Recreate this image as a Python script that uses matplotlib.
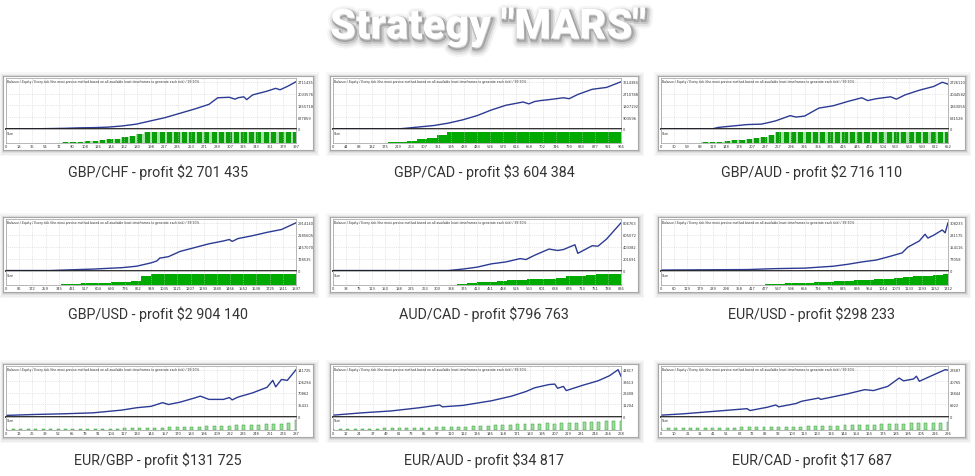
import numpy as np
import matplotlib
matplotlib.use('Agg')
import matplotlib.pyplot as plt
import matplotlib.patheffects as pe
from matplotlib.patches import Rectangle

W, H = 975, 477

pairs = ['GBP/CHF', 'GBP/CAD', 'GBP/AUD',
         'GBP/USD', 'AUD/CAD', 'EUR/USD',
         'EUR/GBP', 'EUR/AUD', 'EUR/CAD']
profits = [2701435, 3604384, 2716110, 2904140, 796763, 298233, 131725, 34817, 17687]
trades = [397, 965, 652, 1897, 826, 1312, 287, 268, 226]

# balance: (share of test, share of final balance)
gbpchf_bal = [(0, 0), (0.1, 0), (0.15, 0.005), (0.2, 0.01), (0.25, 0.02), (0.3, 0.025),
              (0.35, 0.035), (0.4, 0.06), (0.45, 0.1), (0.5, 0.17), (0.55, 0.24),
              (0.6, 0.33), (0.65, 0.42), (0.7, 0.52), (0.73, 0.66), (0.77, 0.67),
              (0.79, 0.63), (0.8, 0.66), (0.82, 0.68), (0.83, 0.62), (0.85, 0.72),
              (0.9, 0.8), (0.93, 0.86), (0.945, 0.83), (0.97, 0.9), (1.0, 1.0)]
gbpcad_bal = [(0, 0), (0.23, 0), (0.25, 0.01), (0.3, 0.04), (0.35, 0.07), (0.4, 0.12),
              (0.45, 0.19), (0.5, 0.28), (0.55, 0.4), (0.6, 0.5), (0.66, 0.57),
              (0.68, 0.53), (0.7, 0.58), (0.72, 0.6), (0.75, 0.62), (0.8, 0.66),
              (0.82, 0.64), (0.85, 0.73), (0.9, 0.84), (0.95, 0.88), (1.0, 1.0)]
gbpaud_bal = [(0, 0), (0.18, 0), (0.2, 0.03), (0.25, 0.06), (0.3, 0.09), (0.35, 0.1),
              (0.38, 0.14), (0.4, 0.17), (0.45, 0.28), (0.47, 0.25), (0.5, 0.27),
              (0.55, 0.44), (0.6, 0.49), (0.65, 0.58), (0.7, 0.66), (0.72, 0.6),
              (0.75, 0.64), (0.8, 0.68), (0.82, 0.63), (0.85, 0.72), (0.9, 0.82),
              (0.95, 0.9), (0.98, 0.99), (1.0, 0.95)]
gbpusd_bal = [(0, 0), (0.15, 0), (0.2, 0.01), (0.3, 0.03), (0.4, 0.06), (0.45, 0.09),
              (0.5, 0.16), (0.52, 0.2), (0.53, 0.26), (0.56, 0.29), (0.6, 0.4),
              (0.65, 0.48), (0.7, 0.56), (0.75, 0.62), (0.77, 0.65), (0.78, 0.61),
              (0.8, 0.67), (0.85, 0.73), (0.9, 0.8), (0.95, 0.86), (1.0, 1.0)]
audcad_bal = [(0, 0), (0.4, 0), (0.45, 0.03), (0.5, 0.07), (0.55, 0.14), (0.6, 0.18),
              (0.65, 0.25), (0.67, 0.23), (0.7, 0.32), (0.75, 0.45), (0.78, 0.42),
              (0.8, 0.44), (0.84, 0.54), (0.85, 0.36), (0.9, 0.52), (0.92, 0.51),
              (0.95, 0.66), (1.0, 1.0)]
eurusd_bal = [(0, 0.01), (0.3, 0.02), (0.4, 0.04), (0.5, 0.05), (0.6, 0.09), (0.65, 0.13),
              (0.7, 0.18), (0.75, 0.22), (0.8, 0.3), (0.84, 0.37), (0.86, 0.49),
              (0.9, 0.62), (0.92, 0.76), (0.93, 0.68), (0.95, 0.74), (0.98, 0.85),
              (0.99, 0.79), (1.0, 1.0)]
eurgbp_bal = [(0, 0.015), (0.1, 0.035), (0.2, 0.05), (0.3, 0.07), (0.4, 0.13), (0.45, 0.18),
              (0.5, 0.21), (0.54, 0.29), (0.56, 0.25), (0.6, 0.3), (0.65, 0.39),
              (0.67, 0.43), (0.7, 0.36), (0.75, 0.36), (0.77, 0.4), (0.78, 0.35),
              (0.8, 0.41), (0.85, 0.5), (0.9, 0.62), (0.92, 0.77), (0.93, 0.63),
              (0.95, 0.79), (0.97, 0.77), (1.0, 1.0)]
euraud_bal = [(0, 0.02), (0.1, 0.07), (0.2, 0.11), (0.3, 0.18), (0.37, 0.24), (0.38, 0.2),
              (0.45, 0.23), (0.55, 0.33), (0.62, 0.43), (0.67, 0.53), (0.7, 0.61),
              (0.75, 0.68), (0.77, 0.69), (0.78, 0.6), (0.8, 0.64), (0.81, 0.55),
              (0.87, 0.67), (0.92, 0.76), (0.96, 0.87), (0.99, 1.0), (1.0, 0.86)]
eurcad_bal = [(0, 0.02), (0.08, 0.05), (0.2, 0.11), (0.3, 0.16), (0.31, 0.12), (0.37, 0.19),
              (0.4, 0.24), (0.41, 0.2), (0.47, 0.27), (0.49, 0.32), (0.55, 0.39),
              (0.556, 0.36), (0.65, 0.48), (0.71, 0.57), (0.74, 0.55), (0.79, 0.64),
              (0.83, 0.82), (0.845, 0.76), (0.88, 0.8), (0.89, 0.86), (0.9, 0.75),
              (0.95, 0.89), (0.99, 1.0), (1.0, 0.99)]

# lot size, share of the "Size" strip
gbpchf_lot = [0, 0, 0, 0, 0, 0, 0, 0, 0.03, 0.06, 0.1, 0.14, 0.18, 0.24, 0.3, 0.38, 0.5,
              0.62, 0.8, 1, 1, 1, 1, 1, 1, 1, 1, 1, 1, 1, 1, 1, 1, 1, 1, 1, 1, 1, 1, 1]
gbpcad_lot = [0, 0, 0, 0, 0, 0, 0.02, 0.08, 0.18, 0.3, 0.45, 0.7, 1, 1, 1, 1, 1, 1, 1, 1,
              1, 1, 1, 1, 1, 1, 1, 1, 1, 1]
gbpaud_lot = [0, 0, 0, 0, 0, 0, 0.03, 0.06, 0.1, 0.15, 0.2, 0.28, 0.35, 0.42, 0.55, 0.7,
              1, 1, 1, 1, 1, 1, 1, 1, 1, 1, 1, 1, 1, 1, 1, 1, 1, 1, 1, 1, 1, 1, 1, 1]
gbpusd_lot = [0, 0, 0, 0, 0, 0, 0.04, 0.08, 0.12, 0.15, 0.18, 0.22, 0.27, 0.35, 0.75, 1,
              1, 1, 1, 1, 1, 1, 1, 1, 1, 1, 1, 1, 1, 1]
audcad_lot = [0, 0, 0, 0, 0, 0, 0, 0, 0, 0, 0, 0, 0, 0.05, 0.12, 0.2, 0.27, 0.33, 0.38,
              0.43, 0.5, 0.55, 0.5, 0.62, 0.75, 0.82, 0.88, 0.93, 0.97, 1]
eurusd_lot = [0, 0, 0, 0, 0, 0, 0, 0, 0, 0, 0, 0.03, 0.06, 0.1, 0.14, 0.18, 0.22, 0.26,
              0.3, 0.34, 0.38, 0.43, 0.48, 0.55, 0.62, 0.7, 0.75, 0.8, 0.85, 1]
eurgbp_lot = [0.02, 0.02, 0.02, 0.02, 0.03, 0.03, 0.03, 0.03, 0.04, 0.04, 0.05, 0.05, 0.06,
              0.07, 0.08, 0.1, 0.12, 0.14, 0.15, 0.17, 0.19, 0.2, 0.22, 0.24, 0.25, 0.27,
              0.3, 0.32, 0.33, 0.35, 0.38, 0.4, 0.42, 0.45, 0.48, 0.5, 0.52, 0.55, 0.6, 0.95]
euraud_lot = [0.05, 0.06, 0.07, 0.08, 0.09, 0.1, 0.11, 0.12, 0.13, 0.14, 0.16, 0.17, 0.18,
              0.2, 0.22, 0.24, 0.26, 0.28, 0.3, 0.33, 0.35, 0.38, 0.4, 0.45, 0.48, 0.5,
              0.52, 0.55, 0.58, 0.6, 0.55, 0.6, 0.65, 0.68, 0.7, 0.75, 0.78, 0.8, 0.85, 0.85]
eurcad_lot = [0.12, 0.13, 0.14, 0.14, 0.15, 0.16, 0.17, 0.17, 0.18, 0.19, 0.2, 0.21, 0.22,
              0.22, 0.23, 0.24, 0.25, 0.26, 0.28, 0.3, 0.32, 0.33, 0.35, 0.37, 0.38, 0.4,
              0.42, 0.44, 0.45, 0.47, 0.5, 0.52, 0.55, 0.57, 0.6, 0.62, 0.64, 0.66, 0.68, 0.7]

balances = [gbpchf_bal, gbpcad_bal, gbpaud_bal, gbpusd_bal, audcad_bal,
            eurusd_bal, eurgbp_bal, euraud_bal, eurcad_bal]
lots = [gbpchf_lot, gbpcad_lot, gbpaud_lot, gbpusd_lot, audcad_lot,
        eurusd_lot, eurgbp_lot, euraud_lot, eurcad_lot]
lot_style = ['striped', 'solid', 'striped', 'solid', 'solid', 'solid',
             'sparse', 'sparse', 'sparse']

col_x = [(3, 313), (330, 638), (658, 965)]
row_y = [(77, 151), (218, 293), (365, 438)]
caption_y = [172, 314, 460]

header = ('Balance / Equity / Every tick (the most precise method based on all available '
          'least timeframes to generate each tick) / 99.90%')


def box(x0, y0, x1, y1):
    return [x0 / W, 1 - y1 / H, (x1 - x0) / W, (y1 - y0) / H]


fig = plt.figure(figsize=(W / 100, H / 100), dpi=100)
fig.patch.set_facecolor('white')

fig.text(0.5, 1 - 28 / H, 'Strategy "MARS"', ha='center', va='center',
         fontsize=30, fontweight=900, family='Roboto', color='white',
         path_effects=[pe.Stroke(linewidth=9, foreground='#000000', alpha=0.04, offset=(1.5, -2.5)),
                       pe.Stroke(linewidth=6, foreground='#000000', alpha=0.07, offset=(1.5, -2.5)),
                       pe.Stroke(linewidth=3.5, foreground='#000000', alpha=0.12, offset=(1.5, -2)),
                       pe.Stroke(linewidth=1.5, foreground='#000000', alpha=0.2, offset=(1, -1.5)),
                       pe.Normal()])

for i in range(9):
    r, c = divmod(i, 3)
    x0, x1 = col_x[c]
    y0, y1 = row_y[r]
    h = y1 - y0
    n = trades[i]
    final = profits[i] + 10000

    # soft shadow round the screenshot
    for k, a in [(5, 0.03), (3.5, 0.04), (2, 0.06), (1, 0.08)]:
        fig.add_artist(Rectangle(((x0 - k + 1) / W, 1 - (y1 + k + 1) / H),
                                 (x1 - x0 + 2 * k) / W, (y1 - y0 + 2 * k) / H,
                                 transform=fig.transFigure, facecolor='#000000',
                                 edgecolor='none', alpha=a, zorder=-2))
    bg = fig.add_axes(box(x0, y0, x1, y1), zorder=0)
    bg.set_xticks([])
    bg.set_yticks([])
    for s in bg.spines.values():
        s.set_color('#a8a8a8')
        s.set_linewidth(0.8)

    left, right = x0 + 3, x1 - 17
    zero_y = y0 + 0.72 * h
    lot_b = y0 + 0.9 * h
    xt = np.linspace(0, n, 23).round()

    ax = fig.add_axes(box(left, y0 + 2, right, zero_y), zorder=1)
    t = np.array([p[0] for p in balances[i]]) * n
    v = np.array([p[1] for p in balances[i]])
    ax.plot(t, v, color='#2c3b94', lw=1.0)
    ax.set_xlim(0, n)
    ax.set_ylim(-0.01, 1.08)
    yt = [0, 0.25, 0.5, 0.75, 1.0]
    ax.set_yticks(yt)
    ax.set_yticklabels([str(int(round(f * final))) for f in yt])
    ax.yaxis.tick_right()
    ax.set_xticks(xt)
    ax.tick_params(axis='x', labelbottom=False, length=0)
    ax.tick_params(axis='y', length=0, labelsize=2.6, pad=1.5, labelcolor='#333333')
    ax.grid(color='#cfcfcf', linestyle=':', linewidth=0.5)
    for s in ['top', 'left', 'right']:
        ax.spines[s].set_color('#9a9a9a')
        ax.spines[s].set_linewidth(0.5)
    ax.spines['bottom'].set_color('#202020')
    ax.spines['bottom'].set_linewidth(1.3)
    ax.text(0.004, 0.975, header, transform=ax.transAxes, fontsize=2.2,
            color='#333333', va='top', ha='left')

    ax2 = fig.add_axes(box(left, zero_y, right, lot_b), zorder=1)
    lv = np.array(lots[i])
    lx = np.linspace(0, n, len(lv))
    step = lx[1] - lx[0]
    if lot_style[i] == 'striped':
        ax2.fill_between(lx, lv, step='mid', color='#a6e3a6', lw=0)
        ax2.bar(lx, lv, width=step * 0.7, color='#0b9e0b', lw=0)
    elif lot_style[i] == 'solid':
        ax2.fill_between(lx, lv, step='mid', color='#00aa00', lw=0)
    else:
        ax2.bar(lx, lv, width=step * 0.4, color='#9ddc9d', edgecolor='#2ca02c', lw=0.35)
    ax2.set_xlim(0, n)
    ax2.set_ylim(0, 1.25)
    ax2.set_xticks(xt)
    ax2.set_xticklabels([str(int(x)) for x in xt])
    ax2.set_yticks([])
    ax2.tick_params(axis='x', length=0, labelsize=2.6, pad=1.2, labelcolor='#333333')
    ax2.grid(axis='x', color='#cfcfcf', linestyle=':', linewidth=0.5)
    for s in ax2.spines.values():
        s.set_color('#9a9a9a')
        s.set_linewidth(0.5)
    ax2.text(0.004, 0.88, 'Size', transform=ax2.transAxes, fontsize=2.4,
             color='#333333', va='top', ha='left')

    caption = f'{pairs[i]} - profit ${profits[i]:,}'.replace(',', ' ')
    fig.text((x0 + x1) / 2 / W, 1 - caption_y[r] / H, caption, ha='center', va='center',
             fontsize=10.3, family='Roboto', color='#333333')

fig.savefig('out.png', dpi=100, facecolor='white')
